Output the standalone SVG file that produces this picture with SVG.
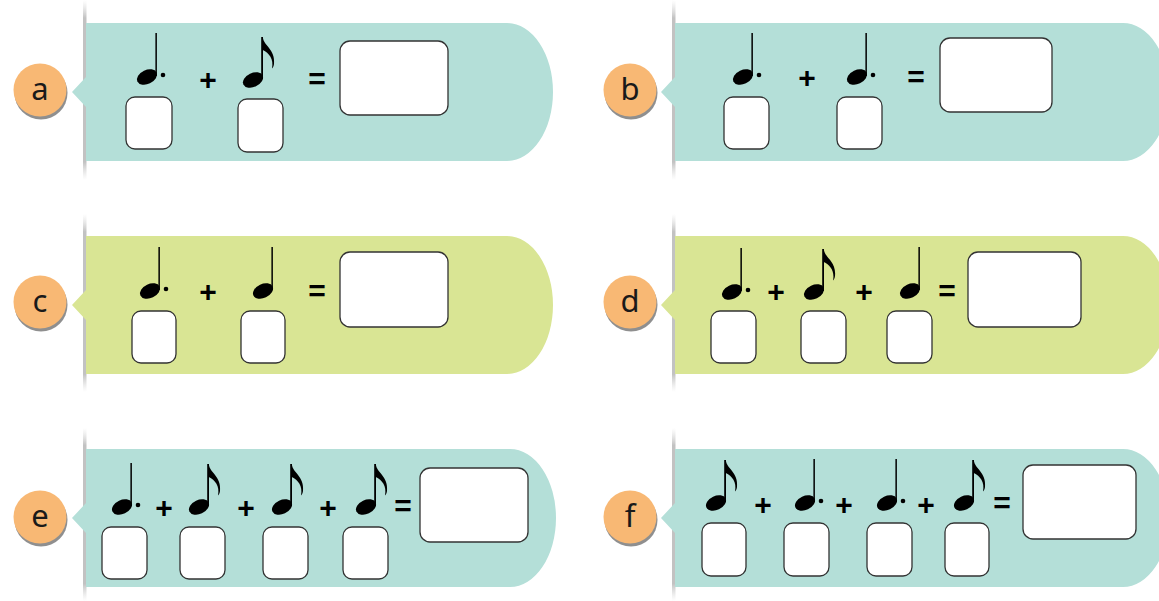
<svg xmlns="http://www.w3.org/2000/svg" xmlns:xlink="http://www.w3.org/1999/xlink" width="1159" height="601" viewBox="0 0 1159 601">
<defs>
<style>
.teal{fill:#B4DFD8}
.green{fill:#D9E594}
.badge{fill:#F8B874}
.badgeShadow{fill:#8f8f8f}
.lbl{font-family:"Noto Sans","DejaVu Sans",sans-serif;font-size:31px;fill:#1a1a1a;text-anchor:middle}
.op{font-family:"Liberation Sans",Arial,sans-serif;font-weight:bold;font-size:30px;fill:#000;text-anchor:middle}
.box{fill:#fff;stroke:#333;stroke-width:1.3}
.shadowline{fill:url(#sh)}
</style>
<linearGradient id="sh" x1="0" y1="0" x2="0" y2="1">
<stop offset="0" stop-color="#d8d8d8" stop-opacity="0"/>
<stop offset="0.1" stop-color="#c2c2c2"/>
<stop offset="0.9" stop-color="#c2c2c2"/>
<stop offset="1" stop-color="#d8d8d8" stop-opacity="0"/>
</linearGradient>
<g id="head"><ellipse cx="0" cy="0" rx="10.6" ry="7" transform="rotate(-25)"/></g>
<g id="quarter"><use xlink:href="#head"/><rect x="8.4" y="-44" width="1.5" height="43"/></g>
<g id="dq"><use xlink:href="#quarter"/><circle cx="16" cy="-2" r="2.3"/></g>
<g id="eighth"><use xlink:href="#head"/><rect x="8.2" y="-43" width="1.8" height="42"/><path d="M9.8,-43 C10.5,-34 22.5,-31 21,-16 C20.7,-14 20,-12.5 19,-11.5 C21,-21 16,-27 9.8,-30 Z"/></g>
</defs>

<g id="connectors"></g>

<!-- Panel a -->
<g id="panel-a">
<rect class="shadowline" x="83" y="0" width="3.5" height="180"/>
<path class="teal" d="M86,23 H507 A46,69 0 0 1 507,161 H86 V107 L72,92 L86,77 Z"/>
<circle class="badgeShadow" cx="41" cy="93" r="26.5"/>
<circle class="badge" cx="40" cy="90" r="26.5"/>
<text class="lbl" x="40" y="100">a</text>
<use xlink:href="#dq" x="147" y="77"/>
<text class="op" x="208" y="90">+</text>
<use xlink:href="#eighth" x="253" y="80"/>
<text class="op" x="317" y="89">=</text>
<rect class="box" x="126" y="97" width="46" height="52" rx="9"/>
<rect class="box" x="238" y="99" width="45" height="53" rx="9"/>
<rect class="box" x="340" y="41" width="108" height="74" rx="10"/>
</g>

<!-- Panel b -->
<g id="panel-b">
<rect class="shadowline" x="672" y="0" width="3.5" height="180"/>
<path class="teal" d="M675,23 H1123 A46,69 0 0 1 1123,161 H675 V107 L661,92 L675,77 Z"/>
<circle class="badgeShadow" cx="631" cy="93" r="26.5"/>
<circle class="badge" cx="630" cy="90" r="26.5"/>
<text class="lbl" x="630" y="100">b</text>
<use xlink:href="#dq" x="743" y="77"/>
<text class="op" x="807" y="88">+</text>
<use xlink:href="#dq" x="857" y="77"/>
<text class="op" x="916" y="87">=</text>
<rect class="box" x="724" y="97" width="45" height="52" rx="9"/>
<rect class="box" x="837" y="97" width="45" height="52" rx="9"/>
<rect class="box" x="940" y="38" width="112" height="74" rx="10"/>
</g>

<!-- Panel c -->
<g id="panel-c">
<rect class="shadowline" x="83" y="214" width="3.5" height="178"/>
<path class="green" d="M86,236 H507 A46,69 0 0 1 507,374 H86 V320 L72,305 L86,290 Z"/>
<circle class="badgeShadow" cx="41" cy="305" r="26.5"/>
<circle class="badge" cx="40" cy="302" r="26.5"/>
<text class="lbl" x="40" y="312">c</text>
<use xlink:href="#dq" x="150" y="291"/>
<text class="op" x="208" y="302">+</text>
<use xlink:href="#quarter" x="263" y="291"/>
<text class="op" x="317" y="301">=</text>
<rect class="box" x="132" y="311" width="44" height="52" rx="9"/>
<rect class="box" x="241" y="311" width="44" height="52" rx="9"/>
<rect class="box" x="340" y="252" width="108" height="75" rx="10"/>
</g>

<!-- Panel d -->
<g id="panel-d">
<rect class="shadowline" x="672" y="214" width="3.5" height="178"/>
<path class="green" d="M675,236 H1123 A46,69 0 0 1 1123,374 H675 V320 L661,305 L675,290 Z"/>
<circle class="badgeShadow" cx="631" cy="305" r="26.5"/>
<circle class="badge" cx="630" cy="302" r="26.5"/>
<text class="lbl" x="630" y="312">d</text>
<use xlink:href="#dq" x="732" y="292"/>
<text class="op" x="776" y="302">+</text>
<use xlink:href="#eighth" x="814" y="292"/>
<text class="op" x="864" y="302">+</text>
<use xlink:href="#quarter" x="910" y="291"/>
<text class="op" x="947" y="301">=</text>
<rect class="box" x="711" y="311" width="45" height="52" rx="9"/>
<rect class="box" x="801" y="311" width="45" height="52" rx="9"/>
<rect class="box" x="887" y="311" width="45" height="52" rx="9"/>
<rect class="box" x="968" y="252" width="113" height="75" rx="10"/>
</g>

<!-- Panel e -->
<g id="panel-e">
<rect class="shadowline" x="83" y="428" width="3.5" height="173"/>
<path class="teal" d="M86,449 H510 A46,69 0 0 1 510,587 H86 V533 L72,518 L86,503 Z"/>
<circle class="badgeShadow" cx="41" cy="520" r="26.5"/>
<circle class="badge" cx="40" cy="517" r="26.5"/>
<text class="lbl" x="40" y="527">e</text>
<use xlink:href="#dq" x="122" y="507"/>
<text class="op" x="164" y="518">+</text>
<use xlink:href="#eighth" x="199" y="507"/>
<text class="op" x="246" y="518">+</text>
<use xlink:href="#eighth" x="282" y="507"/>
<text class="op" x="328" y="518">+</text>
<use xlink:href="#eighth" x="366" y="507"/>
<text class="op" x="403" y="516">=</text>
<rect class="box" x="102" y="527" width="45" height="52" rx="9"/>
<rect class="box" x="180" y="527" width="45" height="52" rx="9"/>
<rect class="box" x="263" y="527" width="45" height="52" rx="9"/>
<rect class="box" x="343" y="527" width="45" height="52" rx="9"/>
<rect class="box" x="420" y="468" width="108" height="74" rx="10"/>
</g>

<!-- Panel f -->
<g id="panel-f">
<rect class="shadowline" x="672" y="428" width="3.5" height="173"/>
<path class="teal" d="M675,449 H1123 A46,69 0 0 1 1123,587 H675 V533 L661,518 L675,503 Z"/>
<circle class="badgeShadow" cx="631" cy="520" r="26.5"/>
<circle class="badge" cx="630" cy="517" r="26.5"/>
<text class="lbl" x="630" y="527">f</text>
<use xlink:href="#eighth" x="716" y="503"/>
<text class="op" x="763" y="515">+</text>
<use xlink:href="#dq" x="805" y="503"/>
<text class="op" x="844" y="515">+</text>
<use xlink:href="#dq" x="887" y="503"/>
<text class="op" x="926" y="515">+</text>
<use xlink:href="#eighth" x="964" y="503"/>
<text class="op" x="1002" y="513">=</text>
<rect class="box" x="702" y="523" width="44" height="53" rx="9"/>
<rect class="box" x="784" y="523" width="45" height="53" rx="9"/>
<rect class="box" x="867" y="523" width="45" height="53" rx="9"/>
<rect class="box" x="945" y="523" width="44" height="53" rx="9"/>
<rect class="box" x="1023" y="465" width="113" height="74" rx="10"/>
</g>
</svg>
